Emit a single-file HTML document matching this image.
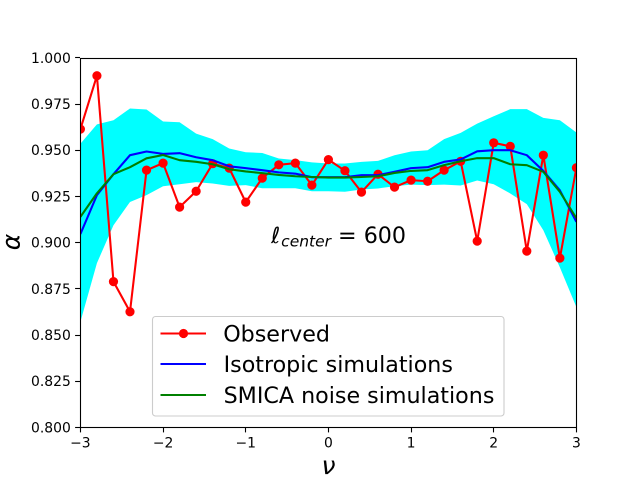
<!DOCTYPE html>
<html>
<head>
<meta charset="utf-8">
<style>
html,body{margin:0;padding:0;background:#fff;width:640px;height:480px;overflow:hidden}
svg{display:block}
text{font-family:"DejaVu Sans","Liberation Sans",sans-serif;fill:#000}
</style>
</head>
<body>
<svg id="chart" xmlns="http://www.w3.org/2000/svg" width="640" height="480" viewBox="0 0 640 480">
<rect x="0" y="0" width="640" height="480" fill="#fff"/>
<defs><clipPath id="plot-clip"><rect x="80" y="57.6" width="496.6" height="369.6"/></clipPath></defs>
<g id="plot" clip-path="url(#plot-clip)"></g>
<g id="axes"></g>
<text x="328.5" y="474" font-size="25" font-style="italic" text-anchor="middle">ν</text>
<text transform="translate(19.5,242) rotate(-90)" font-size="25" font-style="italic" text-anchor="middle">α</text>
<text x="271" y="243" font-size="22.2"><tspan font-style="italic">ℓ</tspan><tspan font-style="italic" font-size="15.5" dy="3.5" dx="1">center</tspan><tspan dy="-3.5" dx="7">= 600</tspan></text>
<g>
<rect x="152.5" y="316.5" width="351.5" height="99.5" rx="3" ry="3" fill="#fff" fill-opacity="0.8" stroke="#ccc" stroke-width="1.1"/>
<line x1="160.5" y1="333.5" x2="206" y2="333.5" stroke="#f00" stroke-width="2.08"/>
<circle cx="183.5" cy="333.5" r="4.6" fill="#f00"/>
<text x="223.2" y="341.5" font-size="22.2">Observed</text>
<line x1="160.5" y1="364" x2="206" y2="364" stroke="#00f" stroke-width="2.08"/>
<text x="223.6" y="372" font-size="22.2">Isotropic simulations</text>
<line x1="160.5" y1="395" x2="206" y2="395" stroke="#008000" stroke-width="2.08"/>
<text x="223.6" y="403" font-size="22.2">SMICA noise simulations</text>
</g>
</svg>
<script>
const nuValues = [-3,-2.8,-2.6,-2.4,-2.2,-2,-1.8,-1.6,-1.4,-1.2,-1,-0.8,-0.6,-0.4,-0.2,0,0.2,0.4,0.6,0.8,1,1.2,1.4,1.6,1.8,2,2.2,2.4,2.6,2.8,3];
const observed = [0.9614,0.9903,0.8789,0.8626,0.9392,0.943,0.9192,0.9278,0.9427,0.9403,0.9219,0.9349,0.9421,0.943,0.9311,0.9449,0.9389,0.9273,0.937,0.93,0.9338,0.9332,0.9392,0.944,0.9008,0.954,0.9521,0.8954,0.9473,0.8916,0.9405];
const isotropic = [0.9046,0.9257,0.937,0.9473,0.9493,0.948,0.9484,0.9462,0.9446,0.9413,0.9403,0.9392,0.938,0.9373,0.9354,0.9354,0.9354,0.9365,0.9365,0.9383,0.9403,0.9408,0.9437,0.945,0.9494,0.95,0.95,0.9473,0.9388,0.9283,0.9112];
const smica = [0.9139,0.9267,0.937,0.9408,0.9456,0.9474,0.9446,0.9437,0.9424,0.9397,0.9385,0.9376,0.9366,0.9359,0.9355,0.9352,0.9352,0.9355,0.9359,0.9377,0.9388,0.9392,0.9419,0.944,0.9457,0.9457,0.9424,0.9419,0.9383,0.9275,0.9132];
const bandUpper = [0.9535,0.964,0.9662,0.9726,0.972,0.9655,0.9651,0.959,0.956,0.9509,0.9489,0.9485,0.9455,0.9446,0.9434,0.9428,0.9428,0.9437,0.9442,0.9473,0.9493,0.95,0.956,0.9594,0.9644,0.9684,0.9722,0.9722,0.9675,0.9662,0.9596];
const bandLower = [0.8571,0.8889,0.9094,0.922,0.9257,0.9305,0.9316,0.9327,0.932,0.9307,0.9311,0.9294,0.9294,0.9294,0.9278,0.9278,0.9275,0.9287,0.9293,0.9305,0.9314,0.9311,0.9314,0.9309,0.9336,0.9316,0.9266,0.9208,0.9067,0.8866,0.8651];
const xTicks = [-3,-2,-1,0,1,2,3];
const yTicks = [0.8,0.825,0.85,0.875,0.9,0.925,0.95,0.975,1.0];
const xDomain = [-3,3];
const yDomain = [0.8,1.0];

const NS = 'http://www.w3.org/2000/svg';
function xScale(v){ return 80.4 + (v - xDomain[0]) / (xDomain[1] - xDomain[0]) * 496; }
function yScale(v){ return 427.4 - (v - yDomain[0]) / (yDomain[1] - yDomain[0]) * 369.6; }
function make(tag, attrs, parent){
  const el = document.createElementNS(NS, tag);
  for (const k in attrs) el.setAttribute(k, attrs[k]);
  parent.appendChild(el);
  return el;
}
function linePoints(values){
  return values.map((v, i) => xScale(nuValues[i]).toFixed(2) + ',' + yScale(v).toFixed(2)).join(' ');
}
const plot = document.getElementById('plot');
const axes = document.getElementById('axes');

const bandPts = bandUpper.map((v, i) => xScale(nuValues[i]).toFixed(2) + ',' + yScale(v).toFixed(2))
  .concat(bandLower.map((v, i) => xScale(nuValues[i]).toFixed(2) + ',' + yScale(v).toFixed(2)).reverse());
const band = make('polygon', {points: bandPts.join(' '), fill: '#00ffff', stroke: 'none'}, plot);



const obsLine = make('polyline', {points: linePoints(observed), fill: 'none', stroke: '#ff0000', 'stroke-width': 2.08, 'stroke-linejoin': 'round'}, plot);



observed.forEach((v, i) => {
  const dot = make('circle', {cx: xScale(nuValues[i]).toFixed(2), cy: yScale(v).toFixed(2), r: 4.6, fill: '#ff0000'}, plot);
  
  
});

const isoLine = make('polyline', {points: linePoints(isotropic), fill: 'none', stroke: '#0000ff', 'stroke-width': 2.08, 'stroke-linejoin': 'round'}, plot);



const smicaLine = make('polyline', {points: linePoints(smica), fill: 'none', stroke: '#008000', 'stroke-width': 2.08, 'stroke-linejoin': 'round'}, plot);



const frame = make('rect', {x: 80.5, y: 58.5, width: 496, height: 369, fill: 'none', stroke: '#000', 'stroke-width': 1.1}, axes);



xTicks.forEach(t => {
  const px = Math.round(xScale(t) - 0.5) + 0.5;
  const tick = make('line', {x1: px, x2: px, y1: 427.5, y2: 432.4, stroke: '#000', 'stroke-width': 1.1}, axes);
  
  
  const label = make('text', {x: xScale(t), y: 447.5, 'font-size': 13.9, 'text-anchor': 'middle'}, axes);
  
  
  label.textContent = (t < 0 ? '\u2212' + Math.abs(t) : String(t));
});
yTicks.forEach(t => {
  const py = Math.round(yScale(t) - 0.5) + 0.5;
  const tick = make('line', {x1: 75.1, x2: 80, y1: py, y2: py, stroke: '#000', 'stroke-width': 1.1}, axes);
  
  
  const label = make('text', {x: 70.8, y: yScale(t) + 5, 'font-size': 13.9, 'text-anchor': 'end'}, axes);
  
  
  label.textContent = t.toFixed(3);
});
</script>
</body>
</html>
